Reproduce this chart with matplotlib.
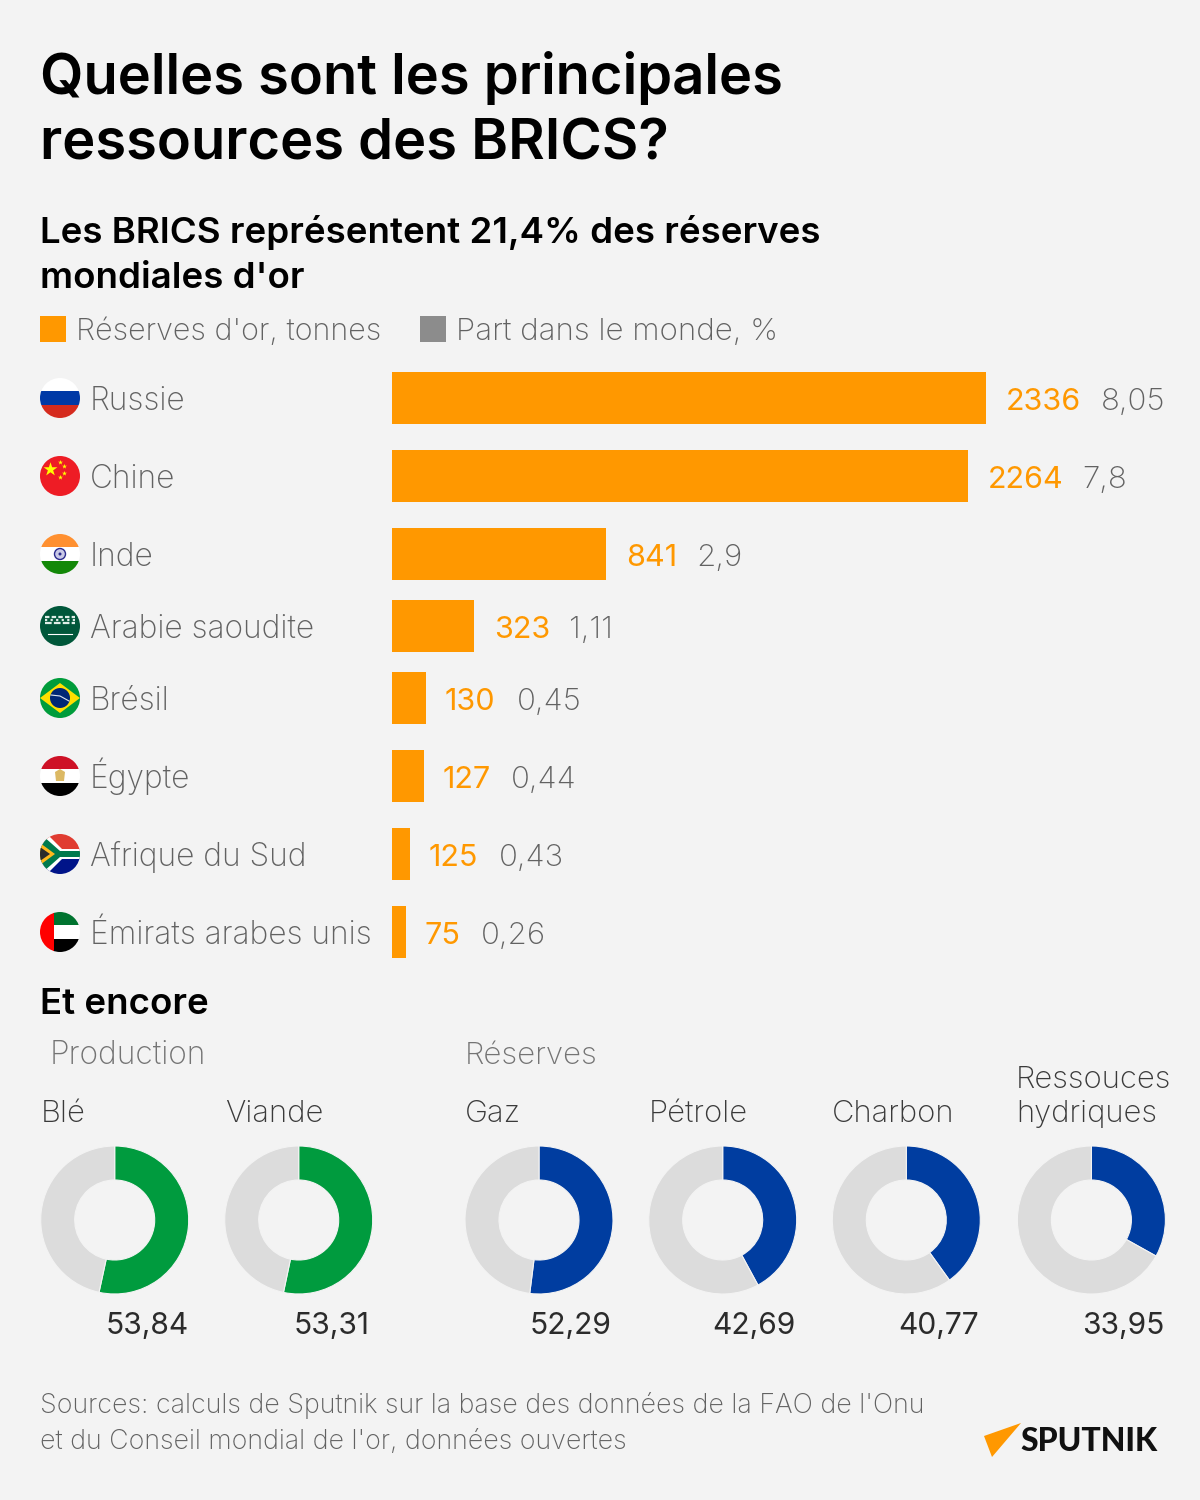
"""Réserves d'or des BRICS: bars per country, donuts for the other resources."""
import matplotlib
matplotlib.use("Agg")
import matplotlib.pyplot as plt
from matplotlib.patches import Circle, Polygon, Rectangle

FONT = "Inter"
ORANGE = "#ff9800"
GREY_TXT = "#626262"
BG = "#f3f3f3"

countries = ["Russie", "Chine", "Inde", "Arabie saoudite", "Brésil", "Égypte",
             "Afrique du Sud", "Émirats arabes unis"]
tonnes_lbl = ["2336", "2264", "841", "323", "130", "127", "125", "75"]
share_lbl = ["8,05", "7,8", "2,9", "1,11", "0,45", "0,44", "0,43", "0,26"]
# bar lengths as drawn; the last ones are not to scale with their labels
bar_tonnes = [2336, 2264, 841, 323, 133, 125, 71, 55]

prod_names = ["Blé", "Viande"]
prod_lbl = ["53,84", "53,31"]
prod_arc = [53.4, 53.3]
res_names = ["Gaz", "Pétrole", "Charbon", "Ressouces\nhydriques"]
res_lbl = ["52,29", "42,69", "40,77", "33,95"]
res_arc = [52.0, 42.1, 40.1, 33.1]

row_y = [398, 476, 554, 626, 698, 776, 854, 932]
tonne_x = [1006, 988, 626, 494, 445, 443, 429, 425]
share_x = [1101, 1082, 696, 569, 517, 511, 499, 481]
PX_PER_TONNE = 594 / 2336


def txt(ax, x, y, s, size, color="#000000", weight="normal", **kw):
    return ax.text(x, y, s, fontsize=size, color=color, fontweight=weight, family=FONT,
                   va="baseline", **kw)


def flag_parts(ax, cy, parts):
    clip = Circle((60, cy), 20, transform=ax.transData)
    for p in parts:
        ax.add_patch(p)
        p.set_clip_path(clip)


def stripes(cy, colors, x0=40, w=40):
    h = 40 / len(colors)
    return [Rectangle((x0, cy - 20 + i * h), w, h, fc=c, ec="none") for i, c in enumerate(colors)]


def draw_flags(ax):
    flag_parts(ax, row_y[0], stripes(row_y[0], ["#ffffff", "#0039a6", "#d52b1e"]))

    flag_parts(ax, row_y[1], [Rectangle((40, row_y[1] - 20), 40, 40, fc="#ee1c25", ec="none")])
    ax.scatter([50], [row_y[1] - 7], s=110, marker="*", color="#ffff00", lw=0, zorder=3)
    ax.scatter([60, 64, 64, 60], [row_y[1] - 14, row_y[1] - 10, row_y[1] - 3, row_y[1] + 1],
               s=14, marker="*", color="#ffff00", lw=0, zorder=3)

    cy = row_y[2]
    flag_parts(ax, cy, stripes(cy, ["#ff9030", "#ffffff", "#138808"]))
    ax.add_patch(Circle((60, cy), 5.5, fc="#c9c9e6", ec="#2b2b8c", lw=1.0, zorder=3))
    ax.add_patch(Circle((60, cy), 1.5, fc="#2b2b8c", ec="none", zorder=3))

    cy = row_y[3]
    flag_parts(ax, cy, [Rectangle((40, cy - 20), 40, 40, fc="#00573a", ec="none")])
    for yy, dash in zip([cy - 9, cy - 6, cy - 3], [(2, 1), (1, 1.5), (3, 1)]):
        ax.plot([45, 75], [yy, yy], color="#dfeee7", lw=1.6, ls=(0, dash), zorder=3)
    ax.plot([48, 72], [cy + 8, cy + 8], color="#ffffff", lw=0.8, zorder=3)

    cy = row_y[4]
    flag_parts(ax, cy, [Rectangle((40, cy - 20), 40, 40, fc="#009c3b", ec="none"),
                        Polygon([(40, cy), (60, cy - 15), (80, cy), (60, cy + 15)], fc="#ffdf00", ec="none")])
    ax.add_patch(Circle((60, cy), 10, fc="#002776", ec="none", zorder=3))
    ax.plot([51, 60, 69], [cy - 3, cy - 2, cy + 3], color="#dfe6f0", lw=0.8, zorder=4)

    cy = row_y[5]
    flag_parts(ax, cy, stripes(cy, ["#ce1126", "#ffffff", "#000000"]))
    ax.add_patch(Polygon([(55, cy - 4), (60, cy - 7), (65, cy - 4), (64, cy + 5), (56, cy + 5)],
                         fc="#dcb964", ec="none", zorder=3))

    cy = row_y[6]
    flag_parts(ax, cy, [
        Rectangle((40, cy - 20), 40, 20, fc="#e03c31", ec="none"),
        Rectangle((40, cy), 40, 20, fc="#001489", ec="none"),
        Polygon([(40, cy - 20), (47, cy - 20), (62, cy - 5), (80, cy - 5), (80, cy + 5), (62, cy + 5),
                 (47, cy + 20), (40, cy + 20)], fc="#ffffff", ec="none"),
        Polygon([(40, cy - 18), (43, cy - 18), (60, cy - 3), (80, cy - 3), (80, cy + 3), (60, cy + 3),
                 (43, cy + 18), (40, cy + 18)], fc="#007a4d", ec="none"),
        Polygon([(40, cy - 11), (55, cy), (40, cy + 11)], fc="#ffb81c", ec="none"),
        Polygon([(40, cy - 7), (50, cy), (40, cy + 7)], fc="#2b2b2b", ec="none"),
    ])

    cy = row_y[7]
    flag_parts(ax, cy, stripes(cy, ["#00732f", "#ffffff", "#000000"], x0=53, w=27)
               + [Rectangle((40, cy - 20), 14, 40, fc="#ff0000", ec="none")])


def donut(fig, cx, val, color):
    r = 76
    ax = fig.add_axes([(cx - r) / 1200, 1 - (1220 + r) / 1500, 2 * r / 1200, 2 * r / 1500])
    ax.pie([val, 100 - val], colors=[color, "#dcdcdc"], startangle=90, counterclock=False,
           radius=74 / 76, wedgeprops={"width": 34 / 76, "linewidth": 0.8, "edgecolor": BG})
    ax.set_xlim(-1, 1)
    ax.set_ylim(-1, 1)
    ax.axis("off")


def main():
    fig = plt.figure(figsize=(12, 15), dpi=100, facecolor=BG)
    ax = fig.add_axes([0, 0, 1, 1])
    ax.set_xlim(0, 1200)
    ax.set_ylim(1500, 0)
    ax.axis("off")

    txt(ax, 40, 94, "Quelles sont les principales", 40.4, weight="semibold")
    txt(ax, 40, 160, "ressources des BRICS?", 40.4, weight="semibold")
    txt(ax, 40, 243, "Les BRICS représentent 21,4% des réserves", 26.4, weight="semibold")
    txt(ax, 40, 288, "mondiales d'or", 26.4, weight="semibold")

    ax.add_patch(Rectangle((40, 316), 26, 26, fc=ORANGE, ec="none"))
    txt(ax, 76, 340, "Réserves d'or, tonnes", 22, GREY_TXT, "light")
    ax.add_patch(Rectangle((420, 316), 26, 26, fc="#8c8c8c", ec="none"))
    txt(ax, 456, 340, "Part dans le monde, %", 22.5, GREY_TXT, "light")

    # bars on their own value scale, rows in pixel positions
    bx = fig.add_axes([392 / 1200, 0, (1200 - 392) / 1200, 1])
    bx.set_xlim(0, (1200 - 392) / PX_PER_TONNE)
    bx.set_ylim(1500, 0)
    bx.axis("off")
    bx.barh(row_y, bar_tonnes, height=52, color=ORANGE, lw=0)

    draw_flags(ax)
    for i, name in enumerate(countries):
        y = row_y[i] + 12
        txt(ax, 90, y, name, 22.8, GREY_TXT, "light")
        txt(ax, tonne_x[i], y, tonnes_lbl[i], 22, ORANGE)
        txt(ax, share_x[i], y, share_lbl[i], 22.5, GREY_TXT, "light")

    txt(ax, 40, 1014, "Et encore", 26.4, weight="semibold")
    txt(ax, 50, 1064, "Production", 22.8, "#747474", "light")
    txt(ax, 465, 1064, "Réserves", 22.5, "#747474", "light")

    centers = [114.7, 298.7, 539, 722.7, 906.3, 1091.4]
    names = prod_names + res_names
    labels = prod_lbl + res_lbl
    arcs = prod_arc + res_arc
    name_x = [41, 225, 465, 649, 832, 1016]
    val_right = [188.5, 370, 611, 795, 979, 1164]
    for i, (cx, name, lbl, arc) in enumerate(zip(centers, names, labels, arcs)):
        donut(fig, cx, arc, "#009b3e" if i < 2 else "#003da0")
        for j, line in enumerate(reversed(name.split("\n"))):
            txt(ax, name_x[i], 1122 - 34 * j, line, 22.3, "#3a3a3a", "light")
        txt(ax, val_right[i], 1334, lbl, 21.6, "#2b2b2b", ha="right")

    txt(ax, 40, 1413, "Sources: calculs de Sputnik sur la base des données de la FAO de l'Onu", 19.3, GREY_TXT, "light")
    txt(ax, 40, 1449, "et du Conseil mondial de l'or, données ouvertes", 19.3, GREY_TXT, "light")

    ax.add_patch(Polygon([(984, 1436), (1021, 1423), (992, 1457)], fc=ORANGE, ec="none"))
    ax.text(1020, 1451, "SPUTNIK", fontsize=23, fontweight="black", family="Lato", color="#111111", va="baseline")

    fig.savefig("out.png", dpi=100, facecolor=BG)


if __name__ == "__main__":
    main()
